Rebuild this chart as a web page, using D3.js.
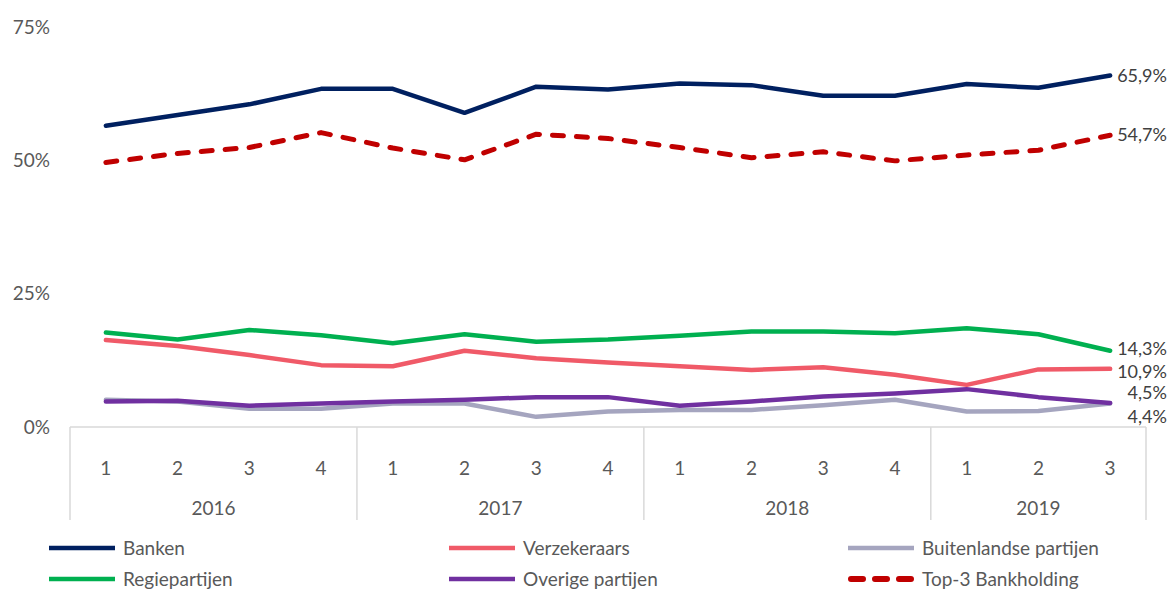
<!DOCTYPE html>
<html>
<head>
<meta charset="utf-8">
<script src="https://cdn.jsdelivr.net/npm/d3@7"></script>
<style>
  body { margin: 0; background: #fff; }
  text { font-family: Lato, "Open Sans", sans-serif; }
</style>
</head>
<body>
<script>
// Données : kwartalen per jaar
const years = ["2016", "2017", "2018", "2019"]
const quarters = ["1", "2", "3", "4", "1", "2", "3", "4", "1", "2", "3", "4", "1", "2", "3"]
const quarterYear = ["2016", "2016", "2016", "2016", "2017", "2017", "2017", "2017", "2018", "2018", "2018", "2018", "2019", "2019", "2019"]

const banken = [56.5, 58.5, 60.5, 63.4, 63.4, 58.9, 63.8, 63.3, 64.4, 64.1, 62.1, 62.1, 64.3, 63.6, 65.9]
const verzekeraars = [16.3, 15.2, 13.5, 11.6, 11.4, 14.3, 12.9, 12.1, 11.4, 10.7, 11.2, 9.8, 7.9, 10.8, 10.9]
const buitenlandse = [5.1, 4.8, 3.4, 3.4, 4.4, 4.4, 1.9, 2.9, 3.2, 3.2, 4.1, 5.1, 2.9, 3.0, 4.4]
const regie = [17.7, 16.4, 18.2, 17.2, 15.7, 17.4, 16.0, 16.4, 17.1, 17.9, 17.9, 17.6, 18.5, 17.4, 14.3]
const overige = [4.8, 4.9, 4.0, 4.4, 4.8, 5.1, 5.6, 5.6, 4.0, 4.8, 5.7, 6.3, 7.1, 5.6, 4.5]
const top3 = [49.6, 51.3, 52.4, 55.2, 52.3, 50.1, 54.9, 54.1, 52.4, 50.5, 51.6, 49.9, 51.0, 51.9, 54.7]

const yTicks = [0, 25, 50, 75]

// séries : ordre de dessin (Top-3 au-dessus), dy = décalage de l'étiquette de fin
const series = [
    { name: "Regiepartijen", values: regie, color: "#00b050", dy: 4 },
    { name: "Verzekeraars", values: verzekeraars, color: "#f05a68", dy: 9 },
    { name: "Buitenlandse partijen", values: buitenlandse, color: "#a5a5bf", dy: 19 },
    { name: "Overige partijen", values: overige, color: "#7030a0", dy: -4 },
    { name: "Banken", values: banken, color: "#002060", dy: 6 },
    { name: "Top-3 Bankholding", values: top3, color: "#c00000", dy: 6, dashed: true }
]

const legendOrder = ["Banken", "Verzekeraars", "Buitenlandse partijen", "Regiepartijen", "Overige partijen", "Top-3 Bankholding"]

const width = 1171
const height = 590
const plotLeft = 70, plotRight = 1146, plotTop = 27, plotBottom = 427

let svg = d3.select("body")
    .append("svg")
    .attr("width", width)
    .attr("height", height)

const keys = quarters.map((q, i) => i)
const x = d3.scaleBand().domain(keys).range([plotLeft, plotRight])
const y = d3.scaleLinear().domain([0, 75]).range([plotBottom, plotTop])

const grey = "#d9d9d9"
const textColor = "#595959"

// axe Y : labels seulement
svg.append("g")
    .selectAll("text")
    .data(yTicks)
    .enter()
    .append("text")
    .attr("x", 50)
    .attr("y", d => y(d))
    .attr("dy", "0.35em")
    .attr("text-anchor", "end")
    .attr("font-size", 19)
    .attr("fill", textColor)
    .text(d => d + "%")

// axe X : ligne de base + séparateurs des années
svg.append("line")
    .attr("x1", plotLeft).attr("x2", plotRight)
    .attr("y1", y(0)).attr("y2", y(0))
    .attr("stroke", grey).attr("stroke-width", 1.5)

const yearBounds = years.map(yr => {
    const idx = keys.filter(i => quarterYear[i] === yr)
    return { year: yr, x0: x(idx[0]), x1: x(idx[idx.length - 1]) + x.bandwidth() }
})

const sepX = [yearBounds[0].x0].concat(yearBounds.map(d => d.x1))
svg.append("g")
    .selectAll("line")
    .data(sepX)
    .enter()
    .append("line")
    .attr("x1", d => d).attr("x2", d => d)
    .attr("y1", y(0)).attr("y2", 520)
    .attr("stroke", grey).attr("stroke-width", 1.5)

svg.append("g")
    .selectAll("text")
    .data(keys)
    .enter()
    .append("text")
    .attr("x", d => x(d) + x.bandwidth() / 2)
    .attr("y", 468)
    .attr("dy", "0.35em")
    .attr("text-anchor", "middle")
    .attr("font-size", 19)
    .attr("fill", textColor)
    .text(d => quarters[d])

svg.append("g")
    .selectAll("text")
    .data(yearBounds)
    .enter()
    .append("text")
    .attr("x", d => (d.x0 + d.x1) / 2)
    .attr("y", 508)
    .attr("dy", "0.35em")
    .attr("text-anchor", "middle")
    .attr("font-size", 19)
    .attr("fill", textColor)
    .text(d => d.year)

// lignes
const line = d3.line()
    .x((d, i) => x(i) + x.bandwidth() / 2)
    .y(d => y(d))

svg.append("g")
    .selectAll("path")
    .data(series)
    .enter()
    .append("path")
    .attr("d", d => line(d.values))
    .attr("fill", "none")
    .attr("stroke", d => d.color)
    .attr("stroke-width", d => d.dashed ? 5 : 4.5)
    .attr("stroke-linejoin", "round")
    .attr("stroke-linecap", "round")
    .attr("stroke-dasharray", d => d.dashed ? "11 13" : null)

// étiquettes de fin
const last = keys.length - 1
svg.append("g")
    .selectAll("text")
    .data(series)
    .enter()
    .append("text")
    .attr("x", 1167)
    .attr("y", d => y(d.values[last]))
    .attr("dy", d => d.dy)
    .attr("text-anchor", "end")
    .attr("font-size", 18)
    .attr("fill", "#404040")
    .text(d => d.values[last].toFixed(1).replace(".", ",") + "%")

// légende
const legend = svg.append("g")
    .selectAll("g")
    .data(legendOrder.map(n => series.find(s => s.name === n)))
    .enter()
    .append("g")
    .attr("transform", (d, i) => `translate(${[49, 449, 848][i % 3]},${i < 3 ? 548 : 579})`)

legend.append("line")
    .attr("x1", d => d.dashed ? 3 : 0)
    .attr("x2", d => d.dashed ? 63 : 66)
    .attr("y1", 0).attr("y2", 0)
    .attr("stroke", d => d.color)
    .attr("stroke-width", d => d.dashed ? 6 : 4.5)
    .attr("stroke-linecap", d => d.dashed ? "round" : "butt")
    .attr("stroke-dasharray", d => d.dashed ? "12 12" : null)

legend.append("text")
    .attr("x", 74)
    .attr("dy", "0.35em")
    .attr("font-size", 19)
    .attr("fill", textColor)
    .text(d => d.name)
</script>
</body>
</html>
